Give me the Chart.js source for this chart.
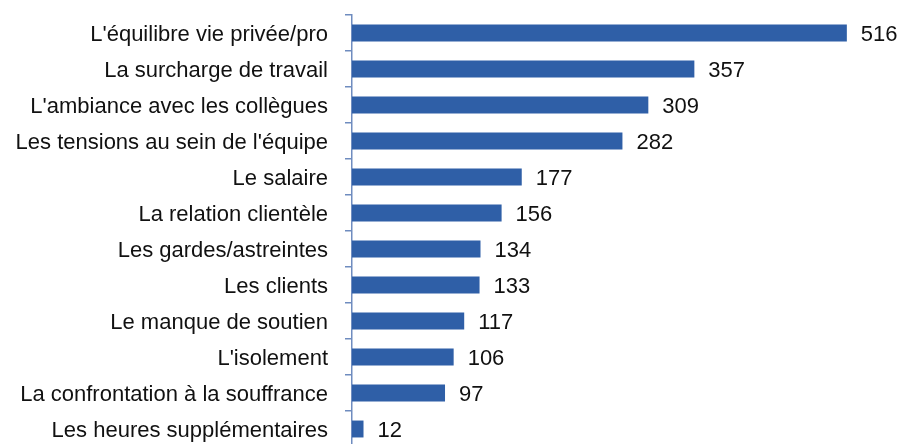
<!DOCTYPE html>
<html lang="fr">
<head>
  <meta charset="UTF-8" />
  <title>Facteurs</title>
  <script src="https://cdn.jsdelivr.net/npm/chart.js"></script>
  <style>
    html, body { margin: 0; padding: 0; background: #fff; overflow: hidden; }
    .chart-box { width: 901px; height: 448px; }
  </style>
</head>
<body>
  <div class="chart-box">
    <canvas id="barChart"></canvas>
  </div>

  <script>
    const categories = [
      "L'équilibre vie privée/pro",
      "La surcharge de travail",
      "L'ambiance avec les collègues",
      "Les tensions au sein de l'équipe",
      "Le salaire",
      "La relation clientèle",
      "Les gardes/astreintes",
      "Les clients",
      "Le manque de soutien",
      "L'isolement",
      "La confrontation à la souffrance",
      "Les heures supplémentaires"
    ];
    const values = [516, 357, 309, 282, 177, 156, 134, 133, 117, 106, 97, 12];

    const fontFamily = '"Liberation Sans", Arial, sans-serif';

    // value labels at the end of each bar
    const valueLabels = {
      id: 'valueLabels',
      afterDatasetsDraw(chart) {
        const ctx = chart.ctx;
        const meta = chart.getDatasetMeta(0);
        ctx.save();
        ctx.font = '22px ' + fontFamily;
        ctx.fillStyle = '#111';
        ctx.textBaseline = 'middle';
        ctx.textAlign = 'left';
        meta.data.forEach((bar, i) => {
          ctx.fillText(values[i], bar.x + 14, bar.y + 2);
        });
        ctx.restore();
      }
    };

    const ctx = document.getElementById('barChart').getContext('2d');
    new Chart(ctx, {
      type: 'bar',
      data: {
        labels: categories,
        datasets: [{
          data: values,
          backgroundColor: '#2f5fa7',
          borderWidth: 0,
          categoryPercentage: 1,
          barPercentage: 0.47
        }]
      },
      options: {
        indexAxis: 'y',
        responsive: true,
        maintainAspectRatio: false,
        animation: false,
        layout: { padding: { top: 15, right: 11, bottom: 1, left: 0 } },
        plugins: {
          legend: { display: false },
          tooltip: { enabled: false }
        },
        scales: {
          x: {
            display: false,
            min: 0,
            max: 561
          },
          y: {
            afterFit(scale) {
              scale.width = 352;
              scale.paddingTop = 0;
              scale.paddingBottom = 0;
            },
            border: { display: true, color: '#6f8cbf', width: 1.5 },
            grid: {
              offset: true,
              drawOnChartArea: false,
              drawTicks: true,
              tickLength: 7,
              color: '#6f8cbf',
              lineWidth: 1.5
            },
            ticks: {
              color: '#111',
              padding: 17,
              labelOffset: 2,
              font: { family: fontFamily, size: 22 }
            }
          }
        }
      },
      plugins: [valueLabels]
    });
  </script>
</body>
</html>
